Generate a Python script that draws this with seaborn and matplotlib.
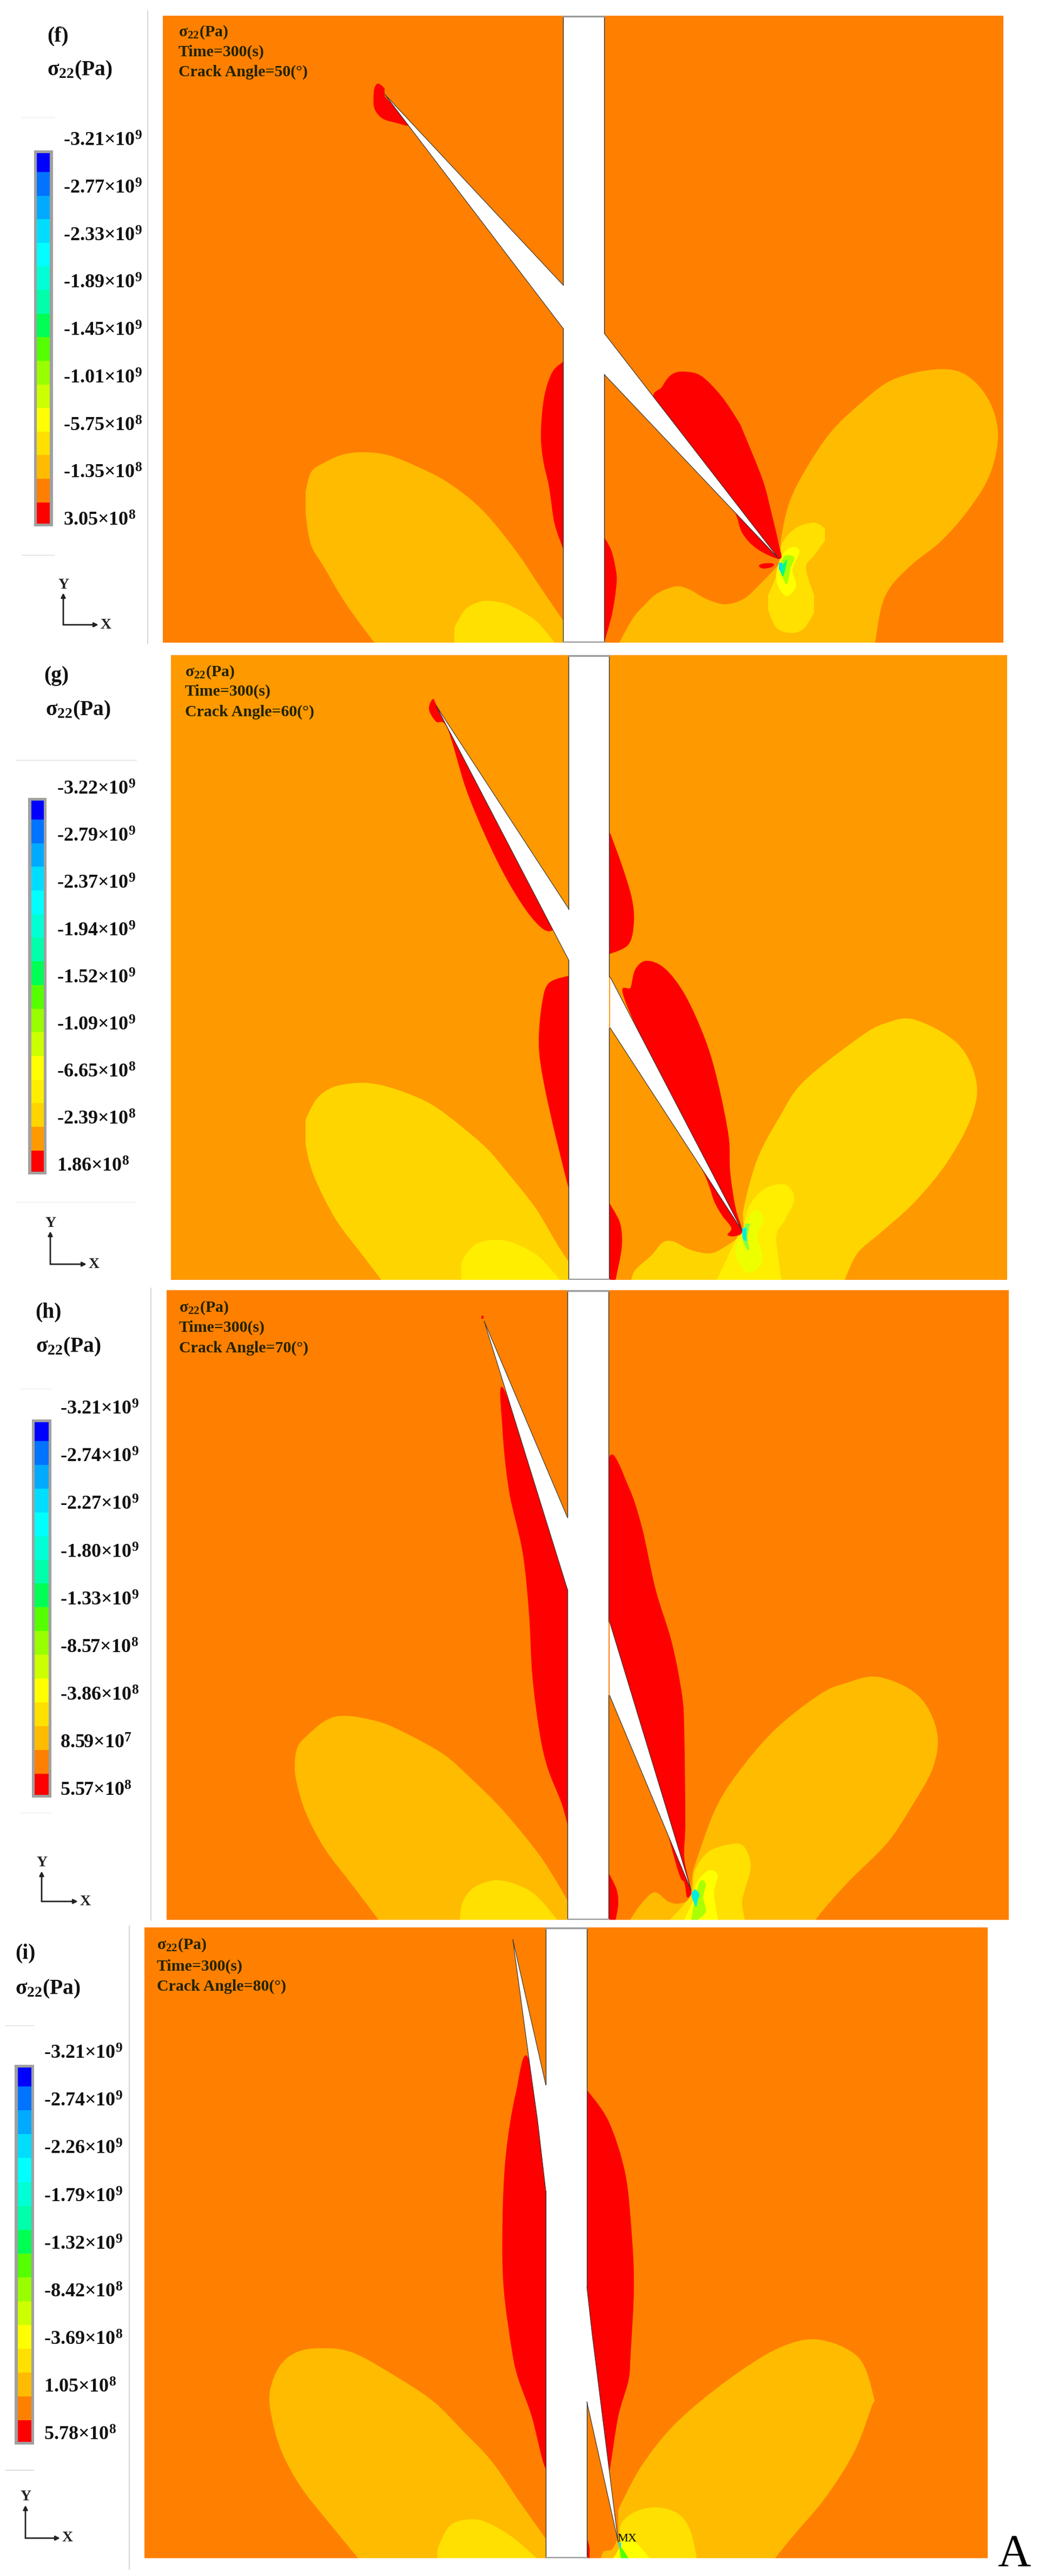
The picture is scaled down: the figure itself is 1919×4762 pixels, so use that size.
import numpy as np
import matplotlib
matplotlib.use('Agg')
import matplotlib.pyplot as plt
from matplotlib.colors import ListedColormap
from matplotlib.path import Path
from matplotlib.patches import PathPatch
import seaborn as sns

W, H = 1919, 4762

# contour colours of the legend, top to bottom
LEVEL_COLORS = ['#0000FF', '#0073FF', '#00AAFF', '#00DDFF', '#00FFFF', '#00FFD5', '#00FFAA', '#00FF55',
                '#55FF00', '#99FF00', '#CCFF00', '#FFFF00', '#FFE000', '#FFBB00', '#FF8000', '#FF0000']
LEVEL_COLORS_G = LEVEL_COLORS[:12] + ['#FFEE00', '#FFD500', '#FF9900', '#FF0000']
LEVEL_ROWS = [8] + [10] * 14 + [9]

LABELS_F = ['-3.21×10$^{9}$', '-2.77×10$^{9}$', '-2.33×10$^{9}$', '-1.89×10$^{9}$', '-1.45×10$^{9}$',
            '-1.01×10$^{9}$', '-5.75×10$^{8}$', '-1.35×10$^{8}$', '3.05×10$^{8}$']
LABELS_G = ['-3.22×10$^{9}$', '-2.79×10$^{9}$', '-2.37×10$^{9}$', '-1.94×10$^{9}$', '-1.52×10$^{9}$',
            '-1.09×10$^{9}$', '-6.65×10$^{8}$', '-2.39×10$^{8}$', '1.86×10$^{8}$']
LABELS_H = ['-3.21×10$^{9}$', '-2.74×10$^{9}$', '-2.27×10$^{9}$', '-1.80×10$^{9}$', '-1.33×10$^{9}$',
            '-8.57×10$^{8}$', '-3.86×10$^{8}$', '8.59×10$^{7}$', '5.57×10$^{8}$']
LABELS_I = ['-3.21×10$^{9}$', '-2.74×10$^{9}$', '-2.26×10$^{9}$', '-1.79×10$^{9}$', '-1.32×10$^{9}$',
            '-8.42×10$^{8}$', '-3.69×10$^{8}$', '1.05×10$^{8}$', '5.78×10$^{8}$']

# outlines of the stress regions (picture pixels)
F_CRACK_UP = [(1041, 527), (711, 174), (1041, 607)]
F_CRACK_LOW = [(1117, 616), (1440, 1033), (1117, 692)]
F_RED_TIP = [(701, 155), (711, 163), (711, 178), (732, 200), (756, 231), (732, 227), (707, 219), (692, 200),
             (691, 170), (695, 157)]
F_RED_BAR_L = [(1041, 669), (1021, 688), (1006, 734), (1000, 800), (1004, 850), (1015, 900), (1025, 967),
               (1041, 1014), (1060, 1014), (1060, 669)]
F_RED_BAR_R = [(1117, 993), (1130, 1017), (1138, 1050), (1140, 1077), (1132, 1133), (1117, 1188), (1100, 1188), (1100, 993)]
F_RED_LOBE = [(1212, 745), (1224, 715), (1242, 692), (1267, 687), (1298, 696), (1335, 734), (1365, 779),
              (1375, 800), (1410, 887), (1425, 943), (1440, 1007), (1442, 1033), (1400, 1015), (1372, 985),
              (1355, 940), (1300, 860)]
F_RED_DOT = [(1403, 1046), (1410, 1042), (1425, 1041), (1431, 1044), (1425, 1049), (1410, 1051)]
F_LOBE_L = [(692, 1188), (640, 1117), (600, 1050), (575, 1007), (565, 950), (565, 910), (575, 873), (600, 855),
            (635, 840), (675, 836), (720, 842), (770, 862), (820, 887), (870, 923), (910, 963), (960, 1027),
            (1000, 1087), (1041, 1147), (1041, 1188)]
F_INNER_L = [(840, 1188), (840, 1160), (860, 1127), (885, 1113), (905, 1111), (940, 1118), (990, 1147), (1025, 1188)]
F_LOBE_R = [(1442, 1033), (1445, 990), (1460, 927), (1490, 867), (1535, 800), (1587, 749), (1648, 703), (1728, 683),
            (1784, 692), (1827, 738), (1845, 802), (1830, 877), (1790, 943), (1740, 1000), (1690, 1040), (1650, 1080),
            (1630, 1120), (1618, 1188), (1145, 1188), (1170, 1143), (1190, 1120), (1215, 1097), (1250, 1084),
            (1275, 1090), (1305, 1107), (1340, 1117), (1375, 1107), (1405, 1080), (1440, 1043)]
F_INNER_R = [(1505, 966), (1525, 977), (1525, 1000), (1505, 1027), (1490, 1050), (1505, 1100), (1505, 1133),
             (1485, 1163), (1460, 1170), (1435, 1160), (1420, 1127), (1420, 1100), (1442, 1047), (1445, 1007), (1470, 977)]
F_YELLOW = [(1465, 1011), (1478, 1020), (1465, 1053), (1472, 1083), (1455, 1102), (1440, 1087), (1435, 1063), (1445, 1027)]
F_LIME = [(1450, 1028), (1468, 1030), (1462, 1050), (1455, 1080), (1447, 1068), (1442, 1050)]
F_GREEN = [(1450, 1040), (1455, 1035), (1448, 1065), (1442, 1050)]
F_CYAN = [(1440, 1040), (1446, 1040), (1445, 1058), (1440, 1052)]

G_CRACK_UP = [(1052, 1681), (806, 1304), (1052, 1776)]
G_CRACK_LOW = [(1128, 1806), (1372, 2275), (1128, 1900)]
G_RED_UP = [(801, 1292), (793, 1311), (806, 1334), (827, 1346), (861, 1457), (898, 1547), (935, 1622), (972, 1682),
            (1002, 1716), (1021, 1720), (1030, 1700), (950, 1530), (880, 1420), (812, 1312)]
G_RED_UP_R = [(1128, 1540), (1150, 1600), (1168, 1660), (1172, 1705), (1162, 1746), (1128, 1763), (1110, 1763), (1110, 1540)]
G_RED_BAR_L = [(1052, 1804), (1015, 1817), (1002, 1855), (996, 1930), (1005, 2000), (1027, 2100), (1052, 2200), (1070, 2200), (1070, 1804)]
G_RED_BAR_R = [(1126, 2223), (1145, 2257), (1150, 2287), (1148, 2317), (1138, 2366), (1110, 2366), (1110, 2223)]
G_RED_LOBE = [(1156, 1851), (1166, 1825), (1175, 1791), (1196, 1776), (1230, 1791), (1267, 1840), (1304, 1922),
              (1327, 2000), (1347, 2100), (1350, 2167), (1360, 2233), (1372, 2275), (1360, 2285), (1345, 2283),
              (1352, 2270), (1335, 2247), (1320, 2220), (1305, 2177), (1260, 2080)]
G_LOBE_L = [(705, 2366), (670, 2320), (620, 2253), (580, 2173), (565, 2117), (565, 2070), (585, 2032), (615, 2010),
            (660, 2002), (700, 2005), (750, 2020), (800, 2043), (850, 2080), (900, 2123), (940, 2170), (990, 2233),
            (1030, 2300), (1052, 2333), (1052, 2366)]
G_INNER_L = [(853, 2366), (855, 2330), (880, 2300), (915, 2292), (950, 2298), (995, 2322), (1035, 2366)]
G_LOBE_R = [(1372, 2278), (1375, 2233), (1400, 2143), (1440, 2067), (1485, 2000), (1587, 1919), (1636, 1892), (1691, 1885),
            (1771, 1930), (1805, 2000), (1795, 2067), (1750, 2150), (1690, 2223), (1630, 2277), (1585, 2317), (1562, 2366),
            (1167, 2366), (1175, 2347), (1205, 2320), (1225, 2297), (1245, 2295), (1275, 2310), (1310, 2317), (1335, 2308)]
G_INNER_R = [(1440, 2189), (1460, 2195), (1468, 2220), (1450, 2257), (1435, 2287), (1445, 2366), (1325, 2366), (1365, 2283),
             (1372, 2277), (1385, 2230), (1410, 2200)]
G_YELLOW = [(1400, 2237), (1412, 2257), (1400, 2283), (1410, 2330), (1385, 2353), (1365, 2333), (1360, 2307), (1375, 2277),
            (1385, 2250)]
G_GREEN = [(1378, 2262), (1387, 2262), (1382, 2285), (1385, 2310), (1378, 2305), (1372, 2285)]
G_CYAN = [(1372, 2272), (1380, 2270), (1380, 2295), (1374, 2290)]

H_CRACK_UP = [(1049, 2805), (895, 2442), (1049, 2938)]
H_CRACK_LOW = [(1127, 2998), (1278, 3495), (1127, 3134)]
H_RED_TIP = [(890, 2432), (894, 2432), (894, 2438), (890, 2438)]
H_RED_L = [(931, 2567), (929, 2643), (941, 2756), (966, 2869), (978, 2983), (984, 3096), (997, 3200), (1012, 3267),
           (1038, 3333), (1049, 3373), (1065, 3373), (1065, 2938), (1000, 2760)]
H_RED_R = [(1127, 2692), (1162, 2748), (1187, 2824), (1212, 2938), (1242, 3036), (1261, 3134), (1265, 3200), (1267, 3367),
           (1265, 3433), (1275, 3483), (1278, 3500), (1270, 3507), (1265, 3480), (1250, 3447), (1190, 3220), (1127, 2998), (1110, 2850)]
H_RED_BAR_R = [(1125, 3462), (1140, 3493), (1143, 3520), (1138, 3549), (1110, 3549), (1110, 3462)]
H_LOBE_L = [(700, 3549), (650, 3483), (600, 3417), (565, 3350), (548, 3293), (545, 3260), (550, 3230), (566, 3210),
            (603, 3180), (640, 3172), (701, 3183), (752, 3205), (820, 3243), (870, 3287), (930, 3347), (1000, 3433),
            (1049, 3513), (1049, 3549)]
H_INNER_L = [(850, 3549), (855, 3517), (875, 3490), (913, 3476), (950, 3482), (990, 3503), (1030, 3549)]
H_LOBE_R = [(1624, 3100), (1697, 3134), (1732, 3200), (1725, 3267), (1685, 3340), (1640, 3407), (1570, 3477), (1525, 3527),
            (1508, 3549), (1165, 3549), (1185, 3520), (1210, 3498), (1235, 3515), (1255, 3519), (1275, 3508), (1280, 3467),
            (1285, 3447), (1320, 3350), (1360, 3283), (1430, 3200), (1513, 3134), (1562, 3112)]
H_INNER_R = [(1350, 3409), (1375, 3413), (1388, 3450), (1375, 3500), (1372, 3520), (1377, 3549), (1238, 3549), (1265, 3520),
             (1280, 3497), (1285, 3457), (1310, 3423)]
H_YELLOW = [(1312, 3457), (1327, 3467), (1320, 3500), (1328, 3549), (1265, 3549), (1285, 3507), (1285, 3487), (1295, 3470)]
H_GREEN = [(1295, 3477), (1305, 3483), (1300, 3507), (1305, 3533), (1290, 3549), (1278, 3549), (1285, 3507)]
H_CYAN = [(1285, 3493), (1293, 3502), (1290, 3512), (1287, 3525), (1282, 3515), (1278, 3502)]

I_CRACK_UP = [(1009, 3854), (948, 3585), (978, 3807), (994, 3921), (1009, 4050)]
I_CRACK_LOW = [(1085, 4228), (1095, 4317), (1143, 4700), (1085, 4440)]
I_RED_L = [(978, 3807), (953, 3872), (935, 3985), (929, 4107), (931, 4228), (947, 4349), (959, 4400), (983, 4467),
           (1007, 4560), (1025, 4570), (1025, 4050)]
I_RED_R = [(1070, 3864), (1085, 3864), (1125, 3921), (1156, 4018), (1168, 4131), (1172, 4228), (1166, 4349), (1162, 4400),
           (1143, 4467), (1127, 4567), (1120, 4590), (1100, 4400), (1085, 4228), (1070, 4228)]
I_RED_BAR_R = [(1085, 4690), (1090, 4710), (1090, 4729), (1070, 4729), (1070, 4690)]
I_LOBE_L = [(662, 4729), (611, 4667), (558, 4600), (521, 4533), (502, 4467), (499, 4420), (517, 4374), (547, 4349),
            (590, 4341), (652, 4349), (735, 4395), (802, 4440), (855, 4493), (909, 4550), (962, 4627), (1009, 4693), (1009, 4729)]
I_INNER_L = [(809, 4729), (811, 4707), (834, 4667), (875, 4657), (909, 4667), (951, 4693), (992, 4729)]
I_LOBE_R = [(1513, 4325), (1587, 4358), (1615, 4430), (1611, 4450), (1579, 4533), (1526, 4617), (1462, 4693), (1433, 4729),
            (1111, 4729), (1116, 4717), (1132, 4712), (1143, 4690), (1143, 4640), (1185, 4560), (1249, 4480), (1345, 4400),
            (1439, 4341)]
I_INNER_R = [(1215, 4635), (1254, 4647), (1276, 4677), (1288, 4729), (1132, 4729), (1145, 4710), (1148, 4667), (1175, 4643)]
I_YELLOW = [(1153, 4693), (1175, 4700), (1201, 4729), (1134, 4729), (1145, 4710)]
I_GREEN = [(1146, 4707), (1162, 4729), (1148, 4729)]
I_CYAN = [(1143, 4700), (1148, 4700), (1147, 4712)]

sns.set_theme(style='white')
plt.rcParams['font.family'] = ['Liberation Serif', 'DejaVu Serif']
plt.rcParams['font.weight'] = 'bold'
plt.rcParams['mathtext.fontset'] = 'custom'
plt.rcParams['mathtext.rm'] = 'Liberation Serif:bold'
plt.rcParams['mathtext.bf'] = 'Liberation Serif:bold'
plt.rcParams['mathtext.default'] = 'rm'

fig = plt.figure(figsize=(W / 100, H / 100), dpi=100, facecolor='white')


def add_ax(left, top, right, bottom):
    ax = fig.add_axes([left / W, 1 - bottom / H, (right - left) / W, (bottom - top) / H])
    ax.set_xlim(left, right)
    ax.set_ylim(bottom, top)
    ax.set_xticks([])
    ax.set_yticks([])
    for s in ax.spines.values():
        s.set_visible(False)
    return ax


def region(ax, pts, color):
    # closed bezier through the read outline points, corners stay sharp at panel and bar edges
    p = np.array(pts, dtype=float)
    n = len(p)
    tang = (np.roll(p, -1, axis=0) - np.roll(p, 1, axis=0)) / 2
    for i in range(n):
        d = p[(i + 1) % n] - p[i]
        if d[0] == 0 or d[1] == 0:
            tang[i] = 0
            tang[(i + 1) % n] = 0
    verts = [p[0]]
    codes = [Path.MOVETO]
    for i in range(n):
        j = (i + 1) % n
        verts += [p[i] + tang[i] / 3, p[j] - tang[j] / 3, p[j]]
        codes += [Path.CURVE4] * 3
    ax.add_patch(PathPatch(Path(verts, codes), facecolor=color, edgecolor='none', lw=0))


def crack(ax, pts):
    xs, ys = zip(*pts)
    ax.fill(xs, ys, color='white', lw=0, zorder=4)
    ax.plot(xs, ys, color='#333333', lw=0.8, zorder=4)


def bar_frame(ax, x0, x1, top, bottom, gap_left, gap_right):
    ax.fill([x0, x1, x1, x0], [top, top, bottom, bottom], color='white', lw=0, zorder=3)
    ax.plot([x0, x0], [top, gap_left[0]], color='#333333', lw=1, zorder=5)
    ax.plot([x0, x0], [gap_left[1], bottom], color='#333333', lw=1, zorder=5)
    ax.plot([x1, x1], [top, gap_right[0]], color='#333333', lw=1, zorder=5)
    ax.plot([x1, x1], [gap_right[1], bottom], color='#333333', lw=1, zorder=5)
    ax.plot([x0, x1], [top + 1, top + 1], color='#999999', lw=2.5, zorder=5)
    ax.plot([x0, x1], [bottom - 1, bottom - 1], color='#999999', lw=2.5, zorder=5)


def colorbar(outer, inner, colors):
    frame = add_ax(*outer)
    frame.set_facecolor('#A0A0A0')
    cax = add_ax(*inner)
    levels = np.repeat(np.arange(16), LEVEL_ROWS)[:, None]
    sns.heatmap(levels, cmap=ListedColormap(colors), vmin=0, vmax=15, cbar=False,
                xticklabels=False, yticklabels=False, ax=cax)


# panel f
ax = add_ax(301, 29, 1855, 1188)
ax.set_facecolor('#FF8000')
for pts, c in [(F_LOBE_L, '#FFBB00'), (F_INNER_L, '#FFE000'), (F_LOBE_R, '#FFBB00'), (F_INNER_R, '#FFE000'),
               (F_YELLOW, '#FFFF00'), (F_LIME, '#AAFF00'), (F_GREEN, '#00FF77'), (F_CYAN, '#00DDFF'),
               (F_RED_TIP, '#FF0000'), (F_RED_BAR_L, '#FF0000'), (F_RED_BAR_R, '#FF0000'), (F_RED_LOBE, '#FF0000'),
               (F_RED_DOT, '#FF0000')]:
    region(ax, pts, c)
crack(ax, F_CRACK_UP)
crack(ax, F_CRACK_LOW)
bar_frame(ax, 1041, 1117, 29, 1188, (527, 607), (616, 692))
colorbar((63, 278, 98, 973), (68, 283, 92, 968), LEVEL_COLORS)

# panel g
ax = add_ax(316, 1211, 1862, 2366)
ax.set_facecolor('#FF9900')
for pts, c in [(G_LOBE_L, '#FFD500'), (G_INNER_L, '#FFEE00'), (G_LOBE_R, '#FFD500'), (G_INNER_R, '#FFEE00'),
               (G_YELLOW, '#EEFF00'), (G_GREEN, '#88FF44'), (G_CYAN, '#00EEDD'),
               (G_RED_UP, '#FF0000'), (G_RED_UP_R, '#FF0000'), (G_RED_BAR_L, '#FF0000'), (G_RED_BAR_R, '#FF0000'),
               (G_RED_LOBE, '#FF0000')]:
    region(ax, pts, c)
crack(ax, G_CRACK_UP)
crack(ax, G_CRACK_LOW)
bar_frame(ax, 1051, 1126, 1211, 2366, (1681, 1776), (1806, 1900))
colorbar((52, 1475, 86, 2171), (58, 1480, 81, 2166), LEVEL_COLORS_G)

# panel h
ax = add_ax(308, 2385, 1865, 3549)
ax.set_facecolor('#FF8000')
for pts, c in [(H_LOBE_L, '#FFBB00'), (H_INNER_L, '#FFE000'), (H_LOBE_R, '#FFBB00'), (H_INNER_R, '#FFE000'),
               (H_YELLOW, '#FFFF00'), (H_GREEN, '#AAFF00'), (H_CYAN, '#00EEDD'),
               (H_RED_TIP, '#FF0000'), (H_RED_L, '#FF0000'), (H_RED_R, '#FF0000'), (H_RED_BAR_R, '#FF0000')]:
    region(ax, pts, c)
crack(ax, H_CRACK_UP)
crack(ax, H_CRACK_LOW)
bar_frame(ax, 1049, 1125, 2385, 3549, (2805, 2938), (2998, 3134))
colorbar((59, 2624, 95, 3323), (64, 2629, 90, 3318), LEVEL_COLORS)

# panel i
ax = add_ax(267, 3563, 1826, 4729)
ax.set_facecolor('#FF8000')
for pts, c in [(I_LOBE_L, '#FFBB00'), (I_INNER_L, '#FFE000'), (I_LOBE_R, '#FFBB00'), (I_INNER_R, '#FFE000'),
               (I_YELLOW, '#FFFF00'), (I_GREEN, '#55FF00'), (I_CYAN, '#00DDFF'),
               (I_RED_L, '#FF0000'), (I_RED_R, '#FF0000'), (I_RED_BAR_R, '#FF0000')]:
    region(ax, pts, c)
crack(ax, I_CRACK_UP)
crack(ax, I_CRACK_LOW)
bar_frame(ax, 1009, 1085, 3563, 4729, (3854, 4050), (4228, 4440))
ax.text(1159, 4693, 'MX', fontsize=16, ha='center', va='center', color='black', zorder=6, fontweight='normal')
colorbar((27, 3817, 63, 4519), (33, 3822, 58, 4514), LEVEL_COLORS)

# all the text and the thin rules go on a page sized overlay
ov = fig.add_axes([0, 0, 1, 1], zorder=10)
ov.set_xlim(0, W)
ov.set_ylim(H, 0)
ov.axis('off')

SIGMA = 'σ$_{22}$(Pa)'
sections = [
    ('(f)', '50', LABELS_F, (87, 76), (87, 139), (330, 67, 104, 141), (117, 270, 972), (117, 1155, 1096, 182)),
    ('(g)', '60', LABELS_G, (81, 1259), (84, 1322), (342, 1250, 1286, 1324), (105, 1469, 2166), (93, 2337, 2276, 160)),
    ('(h)', '70', LABELS_H, (65, 2435), (66, 2499), (331, 2425, 2462, 2500), (111, 2615, 3320), (77, 3515, 3459, 144)),
    ('(i)', '80', LABELS_I, (28, 3620), (28, 3686), (290, 3603, 3643, 3680), (81, 3806, 4511), (47, 4692, 4631, 111)),
]
for tag, angle, labels, tag_xy, sig_xy, info, ticks, triad in sections:
    ov.text(tag_xy[0], tag_xy[1], tag, fontsize=28.5, va='baseline', color='#111111')
    ov.text(sig_xy[0], sig_xy[1], SIGMA, fontsize=28.5, va='baseline', color='#111111')
    ov.text(info[0], info[1], SIGMA, fontsize=21.5, va='baseline', color='#222200')
    ov.text(info[0], info[2], 'Time=300(s)', fontsize=21.5, va='baseline', color='#222200')
    ov.text(info[0], info[3], 'Crack Angle=%s(°)' % angle, fontsize=21.5, va='baseline', color='#222200')
    for y, lab in zip(np.linspace(ticks[1], ticks[2], len(labels)), labels):
        ov.text(ticks[0], y, lab, fontsize=26, va='baseline', color='#111111')
    x0, y0, ytop, xright = triad
    ov.annotate('', xy=(x0, ytop), xytext=(x0, y0), arrowprops=dict(arrowstyle='-|>', color='#222222', lw=2, shrinkA=0, shrinkB=0))
    ov.annotate('', xy=(xright, y0), xytext=(x0, y0), arrowprops=dict(arrowstyle='-|>', color='#222222', lw=2, shrinkA=0, shrinkB=0))
    ov.text(x0, ytop - 15, 'Y', fontsize=20, ha='center', va='center', color='#222222')
    ov.text(xright + 14, y0, 'X', fontsize=20, ha='center', va='center', color='#222222')

# faint rules left over from the pasted legend boxes
rule = dict(color='#D0D0D0', lw=1.2)
ov.plot([273, 273], [20, 1190], **rule)
ov.plot([279, 279], [2381, 3550], **rule)
ov.plot([239, 239], [3560, 4750], **rule)
ov.plot([40, 100], [217, 217], color='#EEEEEE', lw=1)
ov.plot([40, 100], [1026, 1026], color='#DDDDDD', lw=1)
ov.plot([30, 252], [1405, 1405], color='#DDDDDD', lw=1)
ov.plot([30, 252], [2222, 2222], color='#EEEEEE', lw=1)
ov.plot([37, 95], [2567, 2567], color='#EEEEEE', lw=1)
ov.plot([37, 95], [3351, 3351], color='#EEEEEE', lw=1)
ov.plot([10, 62], [3744, 3744], color='#DDDDDD', lw=1)
ov.plot([10, 62], [4566, 4566], color='#CCCCCC', lw=1)

ov.text(1875, 4744, 'A', fontsize=61, ha='center', va='baseline', color='black', fontweight='normal')

fig.savefig('out.png', dpi=100, facecolor='white')
